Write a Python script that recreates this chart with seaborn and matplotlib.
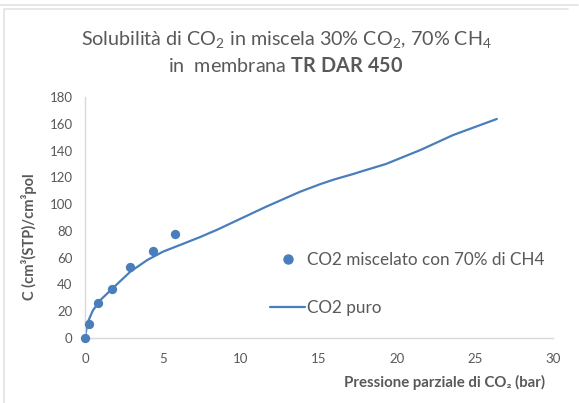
import matplotlib
matplotlib.use("Agg")
import matplotlib.pyplot as plt
from matplotlib.lines import Line2D
from matplotlib.ticker import MultipleLocator
import seaborn as sns
import pandas as pd

# Data
mix_pressure = [0.0, 0.28, 0.85, 1.72, 2.87, 4.33, 5.8]
mix_conc = [0.0, 10.3, 26.3, 36.5, 53.0, 65.2, 77.5]

pure_pressure = [0.0, 0.15, 0.5, 1.0, 1.7, 2.9, 4.0, 5.0, 6.1, 7.4, 8.5, 9.5,
                 11.6, 13.8, 15.1, 16.0, 17.2, 17.6, 19.3, 21.5, 23.6, 26.4]
pure_conc = [0.0, 11.0, 20.5, 28.5, 36.3, 49.5, 58.3, 64.5, 69.5, 75.5, 81.0, 86.5,
             98.0, 109.3, 115.0, 118.5, 122.5, 124.0, 130.0, 140.4, 151.6, 163.6]

label_mix = "CO2 miscelato con 70% di CH4"
label_pure = "CO2 puro"

sns.set_theme(style="white")
plt.rcParams['font.family'] = ['Lato', 'DejaVu Sans']
plt.rcParams['mathtext.fontset'] = 'custom'
plt.rcParams['mathtext.rm'] = 'Lato'
plt.rcParams['mathtext.bf'] = 'Lato:bold'
plt.rcParams['mathtext.it'] = 'Lato:italic'

blue = '#4a7ebb'
txt = '#595959'
axc = '#d9d9d9'

df_mix = pd.DataFrame({"P": mix_pressure, "C": mix_conc})
df_pure = pd.DataFrame({"P": pure_pressure, "C": pure_conc})

fig = plt.figure(figsize=(5.79, 4.03), dpi=100)
ax = fig.add_axes([85/579, 1-338/403, (553-85)/579, (338-97)/403])

sns.lineplot(data=df_pure, x="P", y="C", ax=ax, color=blue, linewidth=1.6,
             sort=False, estimator=None)
sns.scatterplot(data=df_mix, x="P", y="C", ax=ax, color=blue, s=45,
                edgecolor=blue, linewidth=0, zorder=3, clip_on=False)

ax.set_xlim(0, 30)
ax.set_ylim(0, 180)
ax.xaxis.set_major_locator(MultipleLocator(5))
ax.xaxis.set_minor_locator(MultipleLocator(1))
ax.yaxis.set_major_locator(MultipleLocator(20))
ax.yaxis.set_minor_locator(MultipleLocator(2))
for s in ['top', 'right']:
    ax.spines[s].set_visible(False)
for s in ['left', 'bottom']:
    ax.spines[s].set_color(axc)
    ax.spines[s].set_linewidth(1.0)
ax.tick_params(axis='both', which='both', direction='out', color=axc,
               labelcolor=txt, labelsize=9.5)
ax.tick_params(axis='both', which='major', length=4, width=1, pad=5)
ax.tick_params(axis='both', which='minor', length=4, width=0.8)
ax.tick_params(axis='x', which='major', pad=7)
ax.grid(False)

ax.set_xlabel("")
ax.set_ylabel("")
fig.text(344/579, 1-382/403, "Pressione parziale di CO₂ (bar)",
         ha='left', va='center', fontsize=10.8, fontweight='bold', color=txt)
fig.text(29/579, 1-237/403, "C (cm³(STP)/cm³pol", rotation=90,
         ha='center', va='center', fontsize=10.5, fontweight='bold', color=txt)

fig.text(286/579, 1-40/403, r"Solubilità di CO$_2$ in miscela 30% CO$_2$, 70% CH$_4$",
         ha='center', va='center', fontsize=14.2, color=txt)
fig.text(286/579, 1-66/403, r"in  membrana $\mathbf{TR\ DAR\ 450}$",
         ha='center', va='center', fontsize=14.2, color=txt)

handles = [Line2D([], [], marker='o', color=blue, linestyle='none', markersize=6.5),
           Line2D([], [], color=blue, linewidth=1.6)]
leg = ax.legend(handles, [label_mix, label_pure], loc='upper left',
                bbox_to_anchor=((270-85)/468, 1-(252-97)/241), frameon=False,
                fontsize=12.3, labelspacing=1.85, handlelength=2.05,
                handletextpad=0.1, borderpad=0, borderaxespad=0)
for t in leg.get_texts():
    t.set_color(txt)

# chart frame lines
fig.add_artist(Line2D([0, 578/579], [1-5/403, 1-5/403], color='#e3e3e3', lw=1.2,
                      transform=fig.transFigure))
fig.add_artist(Line2D([5/579, 568/579], [1-9/403, 1-9/403], color='#e3e3e3', lw=1.2,
                      transform=fig.transFigure))
fig.add_artist(Line2D([4/579, 4/579], [0, 1-9/403], color='#e3e3e3', lw=1.2,
                      transform=fig.transFigure))

fig.savefig("out.png", dpi=100)
